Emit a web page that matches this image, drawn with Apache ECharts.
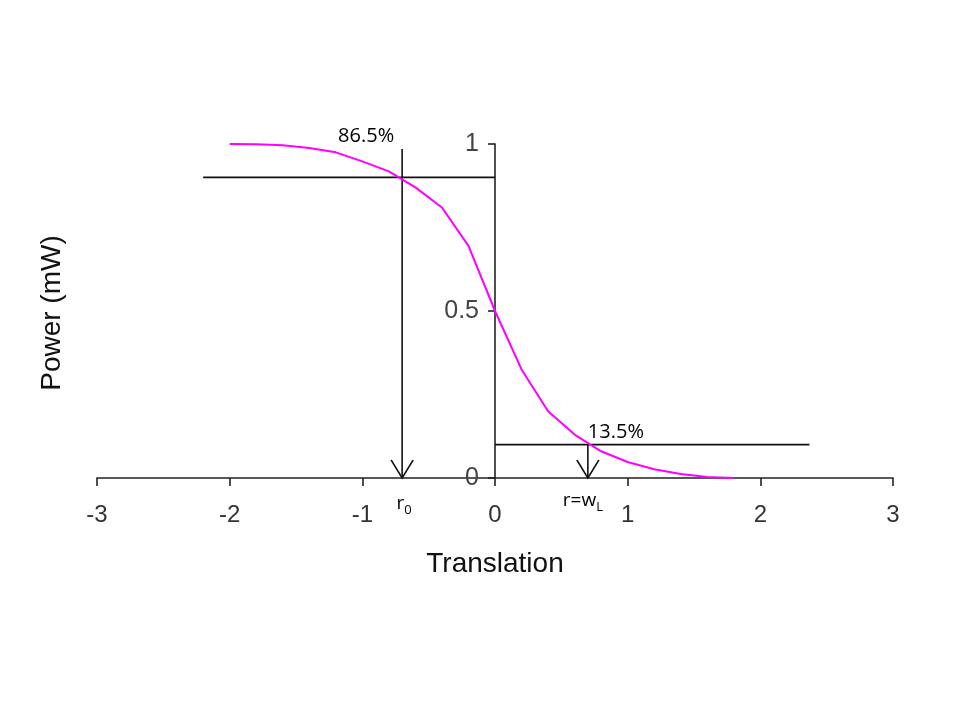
<!DOCTYPE html>
<html>
<head>
<meta charset="utf-8">
<script src="https://cdn.jsdelivr.net/npm/echarts@6/dist/echarts.min.js"></script>
<style>html,body{margin:0;padding:0;background:#fff}#c{width:960px;height:720px}</style>
</head>
<body>
<div id="c"></div>
<script>
// Data
var translation = [-2, -1.8, -1.6, -1.4, -1.2, -1.0, -0.8, -0.6, -0.4, -0.2, 0, 0.2, 0.4, 0.6, 0.8, 1.0, 1.2, 1.4, 1.6, 1.8];
var power = [1.0, 0.999, 0.996, 0.988, 0.975, 0.948, 0.918, 0.87, 0.81, 0.695, 0.50, 0.325, 0.20, 0.13, 0.08, 0.048, 0.026, 0.012, 0.003, 0.0];
var upperLevel = 0.9, lowerLevel = 0.1;
var upperLine = [[-2.2, upperLevel], [0, upperLevel]];
var lowerLine = [[0, lowerLevel], [2.37, lowerLevel]];
var r0 = -0.7, wL = 0.7;
var r0ArrowTop = 0.985;
var xTicks = [-3, -2, -1, 0, 1, 2, 3];
var yTicks = [0, 0.5, 1];
var labels = {upper: '86.5%', lower: '13.5%', r0: 'r', r0sub: '0', wL: 'r=w', wLsub: 'L'};

var curve = translation.map(function (x, i) { return [x, power[i]]; });
var vShape = 'path://M0,0 L11,18 L22,0';
var annFont = '"Open Sans", "Noto Sans", sans-serif';

function arrowSeries(x, yTop, topLabel, topOffset, botText, botOffset) {
  return {
    type: 'line', silent: true, animation: false, showSymbol: true,
    lineStyle: {color: '#111', width: 1.6},
    data: [
      {value: [x, yTop], symbol: 'circle', symbolSize: 1,
        itemStyle: {color: 'rgba(0,0,0,0)', borderWidth: 0},
        label: {show: true, position: 'top', distance: 5, offset: topOffset, formatter: topLabel,
          color: '#000', fontSize: 20, fontFamily: annFont}},
      {value: [x, 0], symbol: vShape, symbolSize: [22, 18], symbolOffset: [0, -9], symbolKeepAspect: false,
        itemStyle: {color: 'rgba(0,0,0,0)', borderColor: '#111', borderWidth: 1.6},
        label: {show: true, position: 'bottom', distance: 5, offset: botOffset, formatter: botText,
          color: '#000', fontSize: 19, fontFamily: annFont,
          rich: {
            n: {fontSize: 19, fontFamily: annFont, color: '#000', verticalAlign: 'bottom'},
            s: {fontSize: 13, fontFamily: annFont, color: '#000', verticalAlign: 'bottom', padding: [0, 0, -4, 0]}
          }}}
    ]
  };
}

var chart = echarts.init(document.getElementById('c'), null, {renderer: 'canvas'});
chart.setOption({
  backgroundColor: '#fff',
  animation: false,
  grid: {left: 97, right: 67, top: 144, bottom: 242, containLabel: false},
  xAxis: {
    type: 'value', min: -3, max: 3, interval: 1,
    axisLine: {onZero: false, lineStyle: {color: '#222', width: 1.6}},
    axisTick: {show: true, length: 8, lineStyle: {color: '#222', width: 1.6}},
    axisLabel: {margin: 25, color: '#333', fontSize: 24, fontFamily: 'Liberation Sans, Arial, sans-serif'},
    splitLine: {show: false},
    name: 'Translation', nameLocation: 'middle', nameGap: 72,
    nameTextStyle: {color: '#111', fontSize: 28, fontFamily: 'Liberation Sans, Arial, sans-serif'}
  },
  yAxis: {
    type: 'value', min: 0, max: 1, interval: 0.5, position: 'left', offset: -398,
    axisLine: {show: true, onZero: false, lineStyle: {color: '#222', width: 1.6}},
    axisTick: {show: true, length: 7, lineStyle: {color: '#222', width: 1.6}},
    axisLabel: {margin: 16, color: '#444', fontSize: 25, fontFamily: 'Liberation Sans, Arial, sans-serif'},
    splitLine: {show: false}
  },
  graphic: [{
    type: 'text', x: 52, y: 313, rotation: Math.PI / 2,
    style: {text: 'Power (mW)', fill: '#111', font: '28px "Liberation Sans", Arial, sans-serif',
      textAlign: 'center', textVerticalAlign: 'middle'}
  }],
  series: [
    {type: 'line', data: upperLine, symbol: 'none', silent: true, lineStyle: {color: '#111', width: 1.6}},
    {type: 'line', data: lowerLine, symbol: 'none', silent: true, lineStyle: {color: '#111', width: 1.6}},
    arrowSeries(r0, r0ArrowTop, labels.upper, [-36, 3], '{n|' + labels.r0 + '}{s|' + labels.r0sub + '}', [2, 10]),
    arrowSeries(wL, lowerLevel, labels.lower, [28, 3], '{n|' + labels.wL + '}{s|' + labels.wLsub + '}', [-5, 7]),
    {type: 'line', data: curve, symbol: 'none', smooth: false, silent: true, z: 5,
      lineStyle: {color: '#ff00ff', width: 2}}
  ]
});
</script>
</body>
</html>
